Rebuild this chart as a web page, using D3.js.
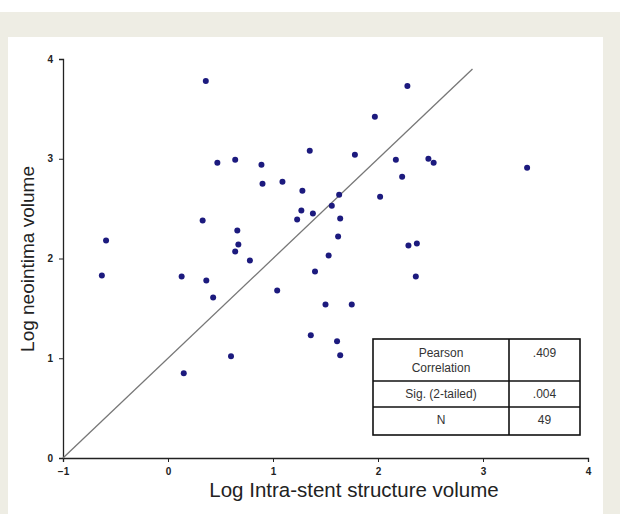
<!DOCTYPE html>
<html>
<head>
<meta charset="utf-8">
<script src="https://cdn.jsdelivr.net/npm/d3@7"></script>
<style>
body { margin: 0; background: #fff; }
svg { display: block; font-family: "Liberation Sans", Arial, sans-serif; }
</style>
</head>
<body>
<svg id="chart" width="620" height="514"></svg>
<script>
// log intra-stent structure volume (x) and log neointima volume (y)
var xVals = [0.36, 0.47, 0.64, 0.89, 0.90, 1.09, 1.35, 1.28, 1.56, 1.27, 1.23, 1.38, 0.33, 0.66, -0.59,
    2.28, 1.97, 1.78, 2.17, 2.48, 2.53, 3.42, 2.23, 1.63, 2.02, 1.64, 1.62, -0.63, 0.13, 0.365,
    0.43, 0.67, 0.64, 0.78, 1.04, 0.60, 0.15, 1.53, 1.40, 1.50, 1.36, 1.61, 1.64, 2.29, 2.37, 2.36, 1.75];
var yVals = [3.78, 2.96, 2.99, 2.94, 2.75, 2.77, 3.08, 2.68, 2.53, 2.48, 2.39, 2.45, 2.38, 2.28, 2.18,
    3.73, 3.42, 3.04, 2.99, 3.00, 2.96, 2.91, 2.82, 2.64, 2.62, 2.40, 2.22, 1.83, 1.82, 1.78,
    1.61, 2.14, 2.07, 1.98, 1.68, 1.02, 0.85, 2.03, 1.87, 1.54, 1.23, 1.17, 1.03, 2.13, 2.15, 1.82, 1.54];
var xTicks = [-1, 0, 1, 2, 3, 4];
var yTicks = [0, 1, 2, 3, 4];
// reference line y = x + 1
var lineX = [-1, 2.9];
var lineY = [0, 3.9];
var statLabels = [["Pearson", "Correlation"], ["Sig. (2-tailed)"], ["N"]];
var statValues = [".409", ".004", "49"];

var svg = d3.select("#chart");

svg.append("rect").attr("x", 0).attr("y", 12).attr("width", 620).attr("height", 502).attr("fill", "#eeede4");
svg.append("rect").attr("x", 8).attr("y", 37).attr("width", 595).attr("height", 477).attr("fill", "#fff");

var x = d3.scaleLinear().domain([-1, 4]).range([63, 588]);
var y = d3.scaleLinear().domain([0, 4]).range([458, 59]);

var xAxis = svg.append("g").attr("transform", "translate(0,458)")
    .call(d3.axisBottom(x).tickValues(xTicks).tickSize(4).tickPadding(6).tickFormat(d3.format("d")));
var yAxis = svg.append("g").attr("transform", "translate(63,0)")
    .call(d3.axisLeft(y).tickValues(yTicks).tickSize(4).tickPadding(6).tickFormat(d3.format("d")));

[xAxis, yAxis].forEach(function(g) {
    g.select(".domain").attr("stroke", "#222").attr("stroke-width", 1.3);
    g.selectAll(".tick line").attr("stroke", "#222");
    g.selectAll(".tick text").attr("fill", "#222").style("font-size", "10px").style("font-weight", "bold")
        .style("font-family", "\"Liberation Sans\", Arial, sans-serif");
});

svg.append("line")
    .attr("x1", x(lineX[0])).attr("y1", y(lineY[0]))
    .attr("x2", x(lineX[1])).attr("y2", y(lineY[1]))
    .attr("stroke", "#777").attr("stroke-width", 1.3);

svg.append("g").selectAll("circle")
    .data(xVals)
    .join("circle")
    .attr("cx", function(d) { return x(d); })
    .attr("cy", function(d, i) { return y(yVals[i]); })
    .attr("r", 3)
    .attr("fill", "#1c1a7e");

svg.append("text")
    .attr("x", 354).attr("y", 497)
    .attr("text-anchor", "middle")
    .style("font-size", "20.5px").attr("fill", "#222")
    .text("Log Intra-stent structure volume");

svg.append("text")
    .attr("transform", "translate(34,259) rotate(-90)")
    .attr("text-anchor", "middle")
    .style("font-size", "19px").attr("fill", "#222")
    .text("Log neointima volume");

// stats table
var tx0 = 373, tx1 = 509, tx2 = 580;
var rowY = [339, 381, 407, 435];
var tbl = svg.append("g");
tbl.append("rect").attr("x", tx0).attr("y", rowY[0]).attr("width", tx2 - tx0).attr("height", rowY[3] - rowY[0])
    .attr("fill", "#fff").attr("stroke", "#111").attr("stroke-width", 1.6);
tbl.append("line").attr("x1", tx1).attr("x2", tx1).attr("y1", rowY[0]).attr("y2", rowY[3])
    .attr("stroke", "#111").attr("stroke-width", 1.6);
for (var r = 1; r < 3; r++) {
    tbl.append("line").attr("x1", tx0).attr("x2", tx2).attr("y1", rowY[r]).attr("y2", rowY[r])
        .attr("stroke", "#111").attr("stroke-width", 1.6);
}
var labelTop = [[357, 372], [398], [424]];
statLabels.forEach(function(lines, i) {
    lines.forEach(function(s, j) {
        tbl.append("text").attr("x", (tx0 + tx1) / 2).attr("y", labelTop[i][j])
            .attr("text-anchor", "middle").style("font-size", "12px").attr("fill", "#333").text(s);
    });
    tbl.append("text").attr("x", (tx1 + tx2) / 2).attr("y", labelTop[i][0])
        .attr("text-anchor", "middle").style("font-size", "12px").attr("fill", "#333").text(statValues[i]);
});
</script>
</body>
</html>
